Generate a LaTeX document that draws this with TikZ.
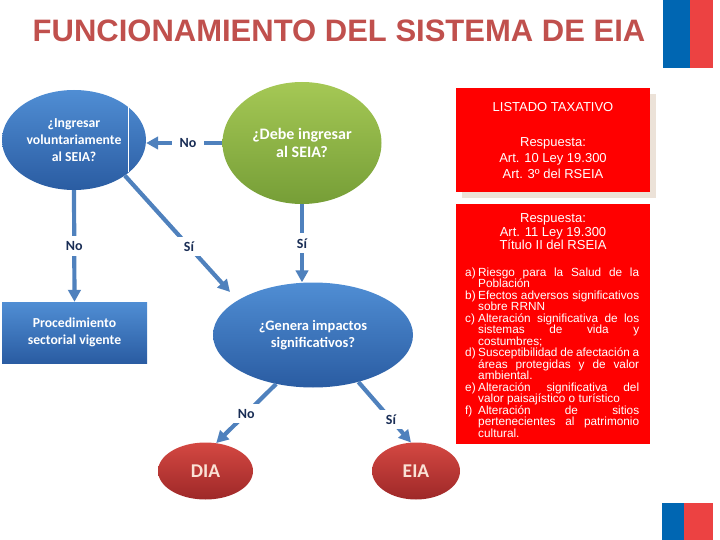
\documentclass[tikz,border=0pt]{standalone}
\usepackage{fontspec}
\setmainfont{Liberation Sans}
\newfontfamily\calfont{Carlito}
\usetikzlibrary{arrows.meta,shapes.geometric,shadows}
\definecolor{ttl}{RGB}{192,80,77}
\definecolor{ln}{RGB}{79,129,189}
\definecolor{lblc}{RGB}{25,45,85}
\definecolor{bluetop}{RGB}{80,142,212}
\definecolor{bluebot}{RGB}{42,92,162}
\definecolor{greentop}{RGB}{165,200,85}
\definecolor{greenbot}{RGB}{118,158,55}
\definecolor{redtop}{RGB}{212,72,66}
\definecolor{redbot}{RGB}{158,40,40}
\definecolor{boxred}{RGB}{255,0,0}
\definecolor{shadowc}{RGB}{236,226,216}
\definecolor{flagblue}{RGB}{0,102,178}
\definecolor{flagred}{RGB}{236,66,66}
\newcommand{\itm}[1]{\par\noindent\hangindent=13pt\hangafter=1\makebox[13pt][l]{#1}}
\begin{document}
\begin{tikzpicture}[x=1pt,y=-1pt,
  conn/.style={line width=4.2pt, draw=ln, -{Triangle[width=12.5pt,length=12pt]}},
  lab/.style={fill=white, inner xsep=8pt, inner ysep=5pt, text=lblc,
    font=\calfont\bfseries\fontsize{14}{14}\selectfont},
  bnode/.style={inner sep=0pt, top color=bluetop, bottom color=bluebot,
    text=white, align=center, font=\calfont\bfseries\fontsize{13.7}{17}\selectfont},
  gnode/.style={ellipse, inner sep=0pt, top color=greentop, bottom color=greenbot,
    text=white, align=center, font=\calfont\bfseries\fontsize{16}{18}\selectfont},
  rnode/.style={ellipse, inner sep=0pt, top color=redtop, bottom color=redbot,
    text={rgb,255:red,250;green,226;blue,214}, font=\calfont\bfseries\fontsize{19.5}{19.5}\selectfont},
  redbox/.style={rectangle, fill=boxred, inner sep=0pt, minimum width=194pt},
  boxtext/.style={text=white, align=center, inner sep=0pt}
]
\useasboundingbox (0,0) rectangle (720,540);

% title
\node[text=ttl, font=\bfseries\fontsize{31}{31}\selectfont] (title) at (339,31) {FUNCIONAMIENTO DEL SISTEMA DE EIA};

% flags
\fill[flagblue] (663,0) rectangle (690,68);
\fill[flagred] (690,0) rectangle (713,68);
\fill[flagblue] (662,503) rectangle (684,540);
\fill[flagred] (684,503) rectangle (713,540);

% nodes
\node[bnode, ellipse, minimum width=144pt, minimum height=100pt] (b1) at (74,140)
  {¿Ingresar\\voluntariamente\\al SEIA?};
\draw[white, line width=0.8pt] (128,107) -- (128,172);
\node[gnode, minimum width=159pt, minimum height=122pt] (g) at (302,143)
  {¿Debe ingresar\\al SEIA?};
\node[bnode, rectangle, minimum width=145pt, minimum height=61pt] (proc) at (74.5,332.5)
  {Procedimiento\\sectorial vigente};
\node[bnode, ellipse, minimum width=200pt, minimum height=105pt,
  font=\calfont\bfseries\fontsize{14.5}{17}\selectfont] (ge) at (313,335)
  {¿Genera impactos\\significativos?};
\node[rnode, minimum width=95pt, minimum height=57pt] (dia) at (205.5,471) {DIA};
\node[rnode, minimum width=88pt, minimum height=57pt] (eia) at (416,471) {EIA};

% red boxes
\node[redbox, minimum height=104pt,
  drop shadow={shadow xshift=6pt, shadow yshift=-6pt, fill=shadowc, opacity=1}] (box1) at (553,140) {};
\node[boxtext, font=\fontsize{13}{16}\selectfont] (box1t) at (553,140.5)
  {LISTADO TAXATIVO\\[19pt]Respuesta:\\Art. 10 Ley 19.300\\Art. 3º del RSEIA};
\node[redbox, minimum height=240pt] (box2) at (553,324) {};
\node[boxtext, font=\fontsize{13}{13.5}\selectfont] (box2t) at (553,232)
  {Respuesta:\\Art. 11 Ley 19.300\\Título II del RSEIA};
\node[text=white, text width=174pt, align=justify, inner sep=0pt, anchor=north west,
  font=\fontsize{11.8}{11.5}\selectfont] (list) at (465,264.5)
  {\itm{a)}Riesgo para la Salud de la\linebreak Población
   \itm{b)}Efectos adversos significativos\linebreak sobre RRNN
   \itm{c)}Alteración significativa de los\linebreak sistemas de vida y\linebreak costumbres;
   \itm{d)}Susceptibilidad de afectación a\linebreak áreas protegidas y de valor\linebreak ambiental.
   \itm{e)}Alteración significativa del\linebreak valor paisajístico o turístico
   \itm{f)}Alteración de sitios\linebreak pertenecientes al patrimonio\linebreak cultural.\par};

% connectors
\coordinate (t1) at (230,292);
\draw[conn] (g.west) -- node[lab, pos=0.45] {No} (g.west -| b1.east);
\draw[conn] (b1.south) -- node[lab] {No} (proc.north);
\draw[conn] (b1.-35) -- node[lab, pos=0.61] {Sí} (t1);
\draw[conn] (g.south) -- node[lab] {Sí} (g.south |- ge.north);
\draw[conn] (ge.233) -- node[lab] {No} (dia.69);
\draw[conn] (ge.314) -- node[lab, pos=0.62] {Sí} (eia.100);
\end{tikzpicture}
\end{document}
